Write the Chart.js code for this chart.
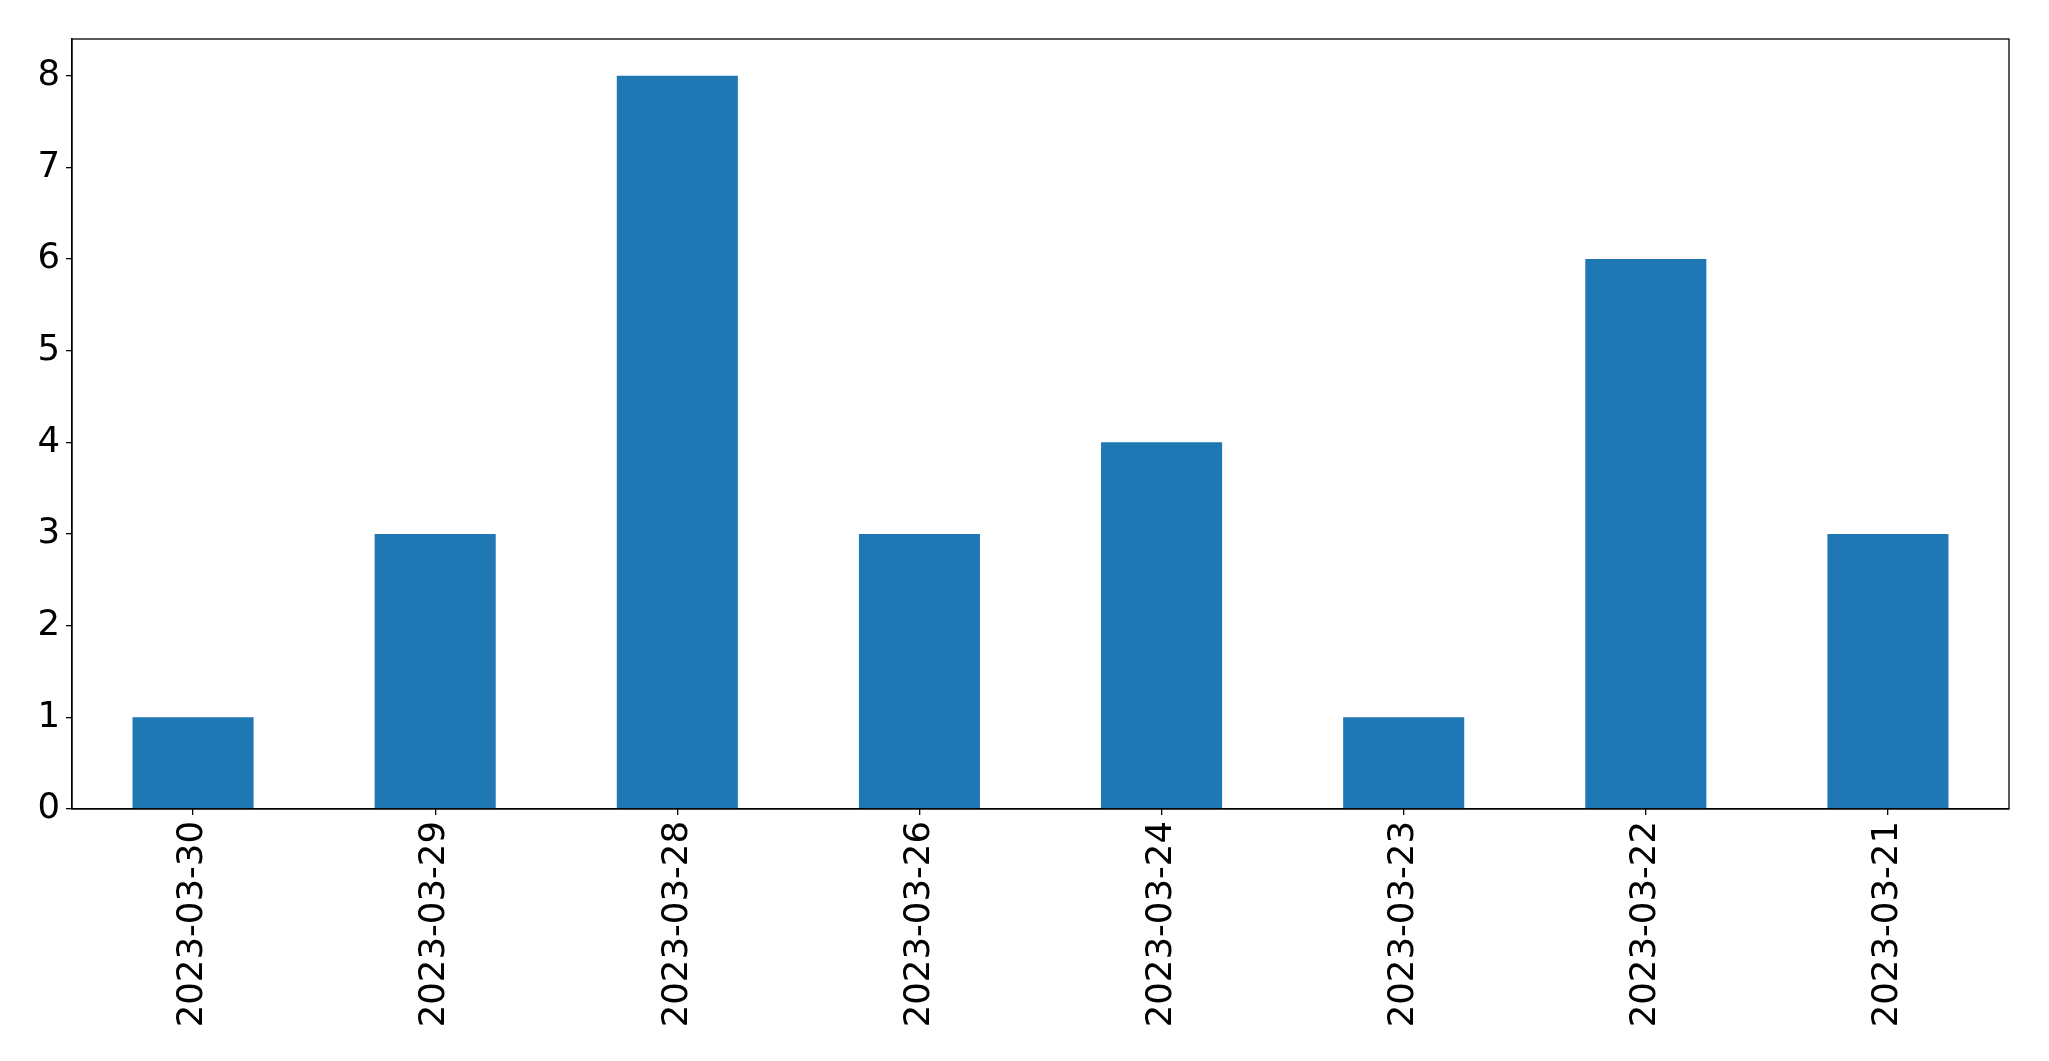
<!DOCTYPE html>
<html>
<head>
<meta charset="utf-8">
<script src="https://cdn.jsdelivr.net/npm/chart.js@4"></script>
<style>
  html, body { margin: 0; padding: 0; background: #fff; }
  #wrap { width: 2049px; height: 1061px; }
</style>
</head>
<body>
<div id="wrap"><canvas id="countChart" width="2049" height="1061"></canvas></div>
<script>
var dates = ['2023-03-30', '2023-03-29', '2023-03-28', '2023-03-26', '2023-03-24', '2023-03-23', '2023-03-22', '2023-03-21'];
var counts = [1, 3, 8, 3, 4, 1, 6, 3];
var yTicks = [0, 1, 2, 3, 4, 5, 6, 7, 8];

// draws the top and right spines
var frame = {
  id: 'frame',
  afterDraw: function(chart) {
    var a = chart.chartArea, c = chart.ctx;
    c.save();
    c.strokeStyle = '#000';
    c.lineWidth = 1.3;
    c.strokeRect(a.left, a.top, a.right - a.left, a.bottom - a.top);
    c.restore();
  }
};

var ctx = document.getElementById('countChart').getContext('2d');
var countChart = new Chart(ctx, {
  type: 'bar',
  data: {
    labels: dates,
    datasets: [{
      data: counts,
      backgroundColor: '#1f77b4',
      borderWidth: 0,
      categoryPercentage: 0.5,
      barPercentage: 1
    }]
  },
  options: {
    responsive: false,
    animation: false,
    layout: { padding: { top: 39, right: 40, left: 0, bottom: 0 } },
    plugins: { legend: { display: false }, tooltip: { enabled: false } },
    scales: {
      x: {
        offset: true,
        grid: { offset: false, drawOnChartArea: false, drawTicks: true, tickLength: 6, color: '#000', lineWidth: 1.3 },
        border: { display: true, color: '#000', width: 1.3 },
        ticks: {
          minRotation: 90, maxRotation: 90, padding: 6,
          color: '#000',
          font: { family: 'DejaVu Sans', size: 35.5 }
        },
        afterFit: function(axis) { axis.height = 252; }
      },
      y: {
        min: 0,
        max: 8.4,
        afterBuildTicks: function(axis) {
          axis.ticks = yTicks.map(function(v) { return { value: v }; });
        },
        grid: { drawOnChartArea: false, drawTicks: true, tickLength: 6, color: '#000', lineWidth: 1.3 },
        border: { display: true, color: '#000', width: 1.3 },
        ticks: {
          padding: 6,
          color: '#000',
          font: { family: 'DejaVu Sans', size: 35.5 }
        },
        afterFit: function(axis) { axis.width = 72; }
      }
    }
  },
  plugins: [frame]
});
</script>
</body>
</html>
